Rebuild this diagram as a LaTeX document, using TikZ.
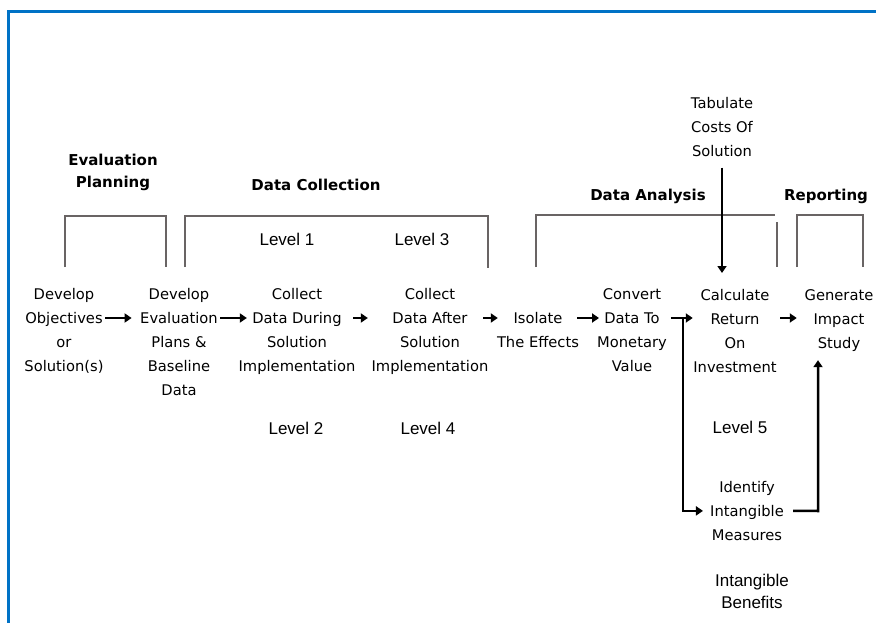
\documentclass[tikz,border=0pt]{standalone}
\usepackage{fontspec}
\newfontfamily\mainf{DejaVu Sans}
\newfontfamily\lvlf{Liberation Sans}
\usetikzlibrary{arrows.meta}
\definecolor{borderblue}{RGB}{0,114,198}
\definecolor{brkgray}{RGB}{105,100,100}
\begin{document}
\begin{tikzpicture}[x=1pt,y=-1pt,
  stage/.style={anchor=north,inner sep=0pt,align=center,font=\mainf\fontsize{14.7}{24}\selectfont},
  head/.style={anchor=north,inner sep=0pt,align=center,font=\mainf\bfseries\fontsize{15}{22}\selectfont},
  lvl/.style={inner sep=0pt,align=center,font=\lvlf\fontsize{17}{22}\selectfont},
  arr/.style={line width=2.5pt,-{Triangle[length=7pt,width=9pt]}},
  brk/.style={draw=brkgray,line width=1.6pt},
]
\useasboundingbox (0,0) rectangle (876,623);
\fill[white] (0,0) rectangle (876,623);
% frame
\draw[borderblue,line width=3pt] (8.3,623) -- (8.3,11.5) -- (876,11.5);

% headers
\node[head] (hplan) at (113,154) {Evaluation\\Planning};
\node[head] (hcoll) at (316,179) {Data Collection};
\node[head] (hana) at (648,189) {Data Analysis};
\node[head] (hrep) at (826,189) {Reporting};

% brackets
\draw[brk] (65,267) |- (166,216) -- (166,267);
\draw[brk] (185,267) |- (488,216) -- (488,268);
\draw[brk] (536,267) |- (775,215);
\draw[brk] (777,222) -- (777,267);
\draw[brk] (797,267) |- (863,215) -- (863,267);

% levels
\node[lvl] (l1) at (287,239) {Level 1};
\node[lvl] (l3) at (422,239) {Level 3};
\node[lvl] (l2) at (296,428) {Level 2};
\node[lvl] (l4) at (428,428) {Level 4};
\node[lvl] (l5) at (740,427) {Level 5};
\node[lvl,anchor=north] (ben) at (752,574) {Intangible\\Benefits};

% stages
\node[stage] (obj) at (64,288) {Develop\\Objectives\\or\\Solution(s)};
\node[stage] (plan) at (179,288) {Develop\\Evaluation\\Plans \&\\Baseline\\Data};
\node[stage] (during) at (297,288) {Collect\\Data During\\Solution\\Implementation};
\node[stage] (after) at (430,288) {Collect\\Data After\\Solution\\Implementation};
\node[stage] (iso) at (538,312) {Isolate\\The Effects};
\node[stage] (conv) at (632,288) {Convert\\Data To\\Monetary\\Value};
\node[stage] (roi) at (735,289) {Calculate\\Return\\On\\Investment};
\node[stage] (gen) at (839,289) {Generate\\Impact\\Study};
\node[stage] (tab) at (722,97) {Tabulate\\Costs Of\\Solution};
\node[stage] (intang) at (747,481) {Identify\\Intangible\\Measures};

% connectors
\coordinate (r2) at (0,318);
\draw[arr,shorten <=1.5pt,shorten >=8.4pt] (obj.east|-r2) -- (plan.west|-r2);
\draw[arr,shorten <=2.2pt,shorten >=-8.4pt] (plan.east|-r2) -- (during.west|-r2);
\draw[arr,shorten <=-2.4pt,shorten >=3.6pt] (during.east|-r2) -- (after.west|-r2);
\draw[arr,shorten <=-5.4pt,shorten >=-1pt] (after.east|-r2) -- (iso.west|-r2);
\draw[arr,shorten <=-2pt,shorten >=-2pt] (iso.east|-r2) -- (conv.west|-r2);
\draw[arr,shorten <=4pt,shorten >=0.4pt] (conv.east|-r2) -- (roi.west|-r2);
\draw[arr,shorten <=3.4pt,shorten >=7.7pt] (roi.east|-r2) -- (gen.west|-r2);

\coordinate (split) at (683,318);
\draw[arr,shorten >=7pt] (split) |- (intang.west);

\coordinate (ret) at (818,511);
\draw[arr,shorten <=9pt,shorten >=8.8pt] (intang.east) -- (ret) -- (ret|-gen.south);

\draw[arr,shorten <=10.8pt,shorten >=16pt] (tab.south) -- (tab.south|-roi.north);
\end{tikzpicture}
\end{document}
